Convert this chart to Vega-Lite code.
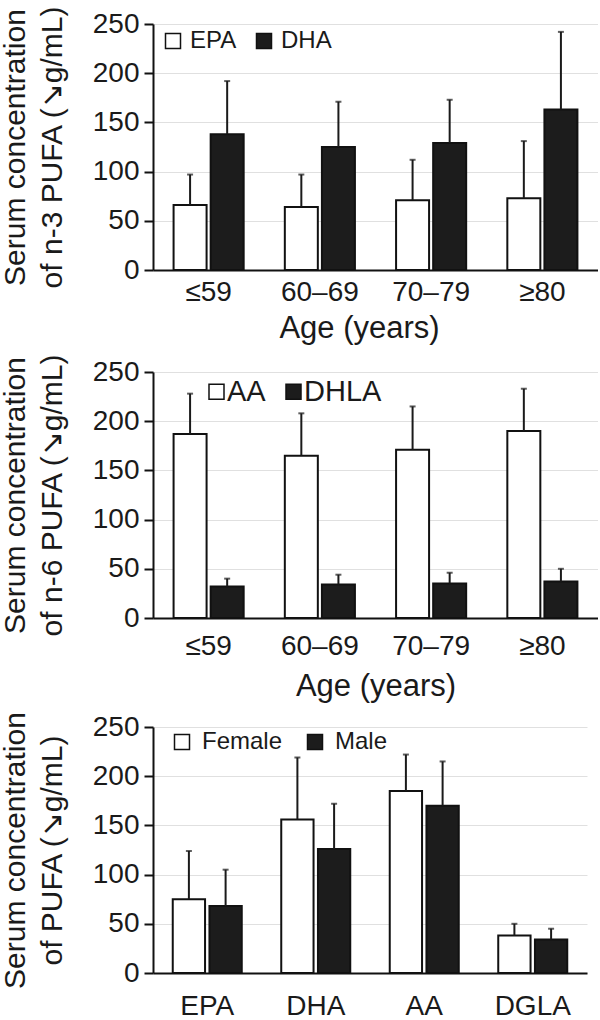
{
  "$schema": "https://vega.github.io/schema/vega-lite/v6.json",
  "padding": {"left": 0, "top": 5, "right": 0, "bottom": 0},
  "background": "white",
  "spacing": 10,
  "datasets": {
    "n3": [
      {"group": "≤59", "series": "EPA", "mean": 66, "upper": 97},
      {"group": "≤59", "series": "DHA", "mean": 138, "upper": 192},
      {"group": "60–69", "series": "EPA", "mean": 64, "upper": 97},
      {"group": "60–69", "series": "DHA", "mean": 125, "upper": 171},
      {"group": "70–79", "series": "EPA", "mean": 71, "upper": 112},
      {"group": "70–79", "series": "DHA", "mean": 129, "upper": 173},
      {"group": "≥80", "series": "EPA", "mean": 73, "upper": 131},
      {"group": "≥80", "series": "DHA", "mean": 163, "upper": 242}
    ],
    "n6": [
      {"group": "≤59", "series": "AA", "mean": 187, "upper": 228},
      {"group": "≤59", "series": "DHLA", "mean": 32, "upper": 40},
      {"group": "60–69", "series": "AA", "mean": 165, "upper": 208},
      {"group": "60–69", "series": "DHLA", "mean": 34, "upper": 44},
      {"group": "70–79", "series": "AA", "mean": 171, "upper": 215},
      {"group": "70–79", "series": "DHLA", "mean": 35, "upper": 46},
      {"group": "≥80", "series": "AA", "mean": 190, "upper": 233},
      {"group": "≥80", "series": "DHLA", "mean": 37, "upper": 50}
    ],
    "sex": [
      {"group": "EPA", "series": "Female", "mean": 75, "upper": 124},
      {"group": "EPA", "series": "Male", "mean": 68, "upper": 105},
      {"group": "DHA", "series": "Female", "mean": 156, "upper": 219},
      {"group": "DHA", "series": "Male", "mean": 126, "upper": 172},
      {"group": "AA", "series": "Female", "mean": 185, "upper": 222},
      {"group": "AA", "series": "Male", "mean": 170, "upper": 215},
      {"group": "DGLA", "series": "Female", "mean": 38, "upper": 50},
      {"group": "DGLA", "series": "Male", "mean": 34, "upper": 45}
    ]
  },
  "resolve": {
    "scale": {"x": "independent", "y": "independent", "xOffset": "independent", "fill": "independent"},
    "legend": {"fill": "independent"},
    "axis": {"x": "independent", "y": "independent"}
  },
  "vconcat": [
    {
      "width": 445, "height": 246,
      "data": {"name": "n3"},
      "encoding": {
        "x": {"field": "group", "type": "nominal", "sort": ["≤59", "60–69", "70–79", "≥80"], "scale": {"paddingInner": 0.37, "paddingOuter": 0.185}, "title": "Age (years)",
          "axis": {"labelPadding": 8, "titlePadding": 7, "titleX": 206}},
        "xOffset": {"field": "series", "type": "nominal", "sort": ["EPA", "DHA"], "scale": {"paddingInner": 0.11, "paddingOuter": 0}}
      },
      "layer": [
        {
          "mark": {"type": "bar", "stroke": "#111111", "strokeWidth": 2},
          "encoding": {
            "y": {"field": "mean", "type": "quantitative", "scale": {"domain": [0, 250], "nice": false}, "title": ["Serum concentration", "of n-3 PUFA (↘g/mL)"]},
            "fill": {"field": "series", "type": "nominal", "sort": ["EPA", "DHA"], "scale": {"domain": ["EPA", "DHA"], "range": ["#ffffff", "#1c1c1c"]},
              "legend": {"legendX": 8, "legendY": 5, "labelFontSize": 24, "labelOffset": 5, "columnPadding": 15}}
          }
        },
        {
          "mark": {"type": "rule", "color": "#1a1a1a", "strokeWidth": 2},
          "encoding": {"y": {"field": "mean", "type": "quantitative", "title": ["Serum concentration", "of n-3 PUFA (↘g/mL)"]}, "y2": {"field": "upper"}}
        },
        {
          "mark": {"type": "tick", "color": "#1a1a1a", "thickness": 2, "size": 6, "orient": "horizontal"},
          "encoding": {"y": {"field": "upper", "type": "quantitative", "title": ["Serum concentration", "of n-3 PUFA (↘g/mL)"]}}
        }
      ]
    },
    {
      "width": 445, "height": 246,
      "data": {"name": "n6"},
      "encoding": {
        "x": {"field": "group", "type": "nominal", "sort": ["≤59", "60–69", "70–79", "≥80"], "scale": {"paddingInner": 0.37, "paddingOuter": 0.185}, "title": "Age (years)",
          "axis": {"labelPadding": 14, "titlePadding": 11}},
        "xOffset": {"field": "series", "type": "nominal", "sort": ["AA", "DHLA"], "scale": {"paddingInner": 0.11, "paddingOuter": 0}}
      },
      "layer": [
        {
          "mark": {"type": "bar", "stroke": "#111111", "strokeWidth": 2},
          "encoding": {
            "y": {"field": "mean", "type": "quantitative", "scale": {"domain": [0, 250], "nice": false}, "title": ["Serum concentration", "of n-6 PUFA (↘g/mL)"]},
            "fill": {"field": "series", "type": "nominal", "sort": ["AA", "DHLA"], "scale": {"domain": ["AA", "DHLA"], "range": ["#ffffff", "#1c1c1c"]},
              "legend": {"legendX": 49, "legendY": 5, "labelFontSize": 29, "labelOffset": -4, "columnPadding": 13}}
          }
        },
        {
          "mark": {"type": "rule", "color": "#1a1a1a", "strokeWidth": 2},
          "encoding": {"y": {"field": "mean", "type": "quantitative", "title": ["Serum concentration", "of n-6 PUFA (↘g/mL)"]}, "y2": {"field": "upper"}}
        },
        {
          "mark": {"type": "tick", "color": "#1a1a1a", "thickness": 2, "size": 6, "orient": "horizontal"},
          "encoding": {"y": {"field": "upper", "type": "quantitative", "title": ["Serum concentration", "of n-6 PUFA (↘g/mL)"]}}
        }
      ]
    },
    {
      "width": 434, "height": 246,
      "data": {"name": "sex"},
      "encoding": {
        "x": {"field": "group", "type": "nominal", "sort": ["EPA", "DHA", "AA", "DGLA"], "scale": {"paddingInner": 0.364, "paddingOuter": 0.182}, "title": null,
          "axis": {"labelPadding": 19}},
        "xOffset": {"field": "series", "type": "nominal", "sort": ["Female", "Male"], "scale": {"paddingInner": 0.12, "paddingOuter": 0}}
      },
      "layer": [
        {
          "mark": {"type": "bar", "stroke": "#111111", "strokeWidth": 2},
          "encoding": {
            "y": {"field": "mean", "type": "quantitative", "scale": {"domain": [0, 250], "nice": false}, "title": ["Serum concentration", "of PUFA (↘g/mL)"]},
            "fill": {"field": "series", "type": "nominal", "sort": ["Female", "Male"], "scale": {"domain": ["Female", "Male"], "range": ["#ffffff", "#1c1c1c"]},
              "legend": {"legendX": 17, "legendY": 3, "labelFontSize": 24, "labelOffset": 8, "columnPadding": 20}}
          }
        },
        {
          "mark": {"type": "rule", "color": "#1a1a1a", "strokeWidth": 2},
          "encoding": {"y": {"field": "mean", "type": "quantitative", "title": ["Serum concentration", "of PUFA (↘g/mL)"]}, "y2": {"field": "upper"}}
        },
        {
          "mark": {"type": "tick", "color": "#1a1a1a", "thickness": 2, "size": 6, "orient": "horizontal"},
          "encoding": {"y": {"field": "upper", "type": "quantitative", "title": ["Serum concentration", "of PUFA (↘g/mL)"]}}
        }
      ]
    }
  ],
  "config": {
    "font": "Liberation Sans",
    "view": {"stroke": null},
    "axis": {
      "domainColor": "#111111", "domainWidth": 2,
      "labelFont": "Liberation Sans", "labelFontSize": 28, "labelColor": "#1a1a1a",
      "titleFont": "Liberation Sans", "titleFontSize": 30, "titleFontWeight": "normal", "titleColor": "#1a1a1a",
      "gridColor": "#e0e0e0", "gridWidth": 1,
      "tickColor": "#111111", "tickWidth": 2, "tickSize": 9
    },
    "axisX": {"ticks": false, "grid": false, "labelAngle": 0, "labelOverlap": false, "labelBound": false, "titleFontSize": 31},
    "axisY": {"grid": true, "values": [0, 50, 100, 150, 200, 250], "labelPadding": 5, "titlePadding": 25, "titleLineHeight": 37},
    "legend": {
      "orient": "none", "direction": "horizontal", "title": null,
      "symbolType": "square", "symbolSize": 225, "symbolStrokeColor": "#111111", "symbolStrokeWidth": 1.5,
      "labelFont": "Liberation Sans", "labelColor": "#1a1a1a", "padding": 0, "symbolOffset": 0
    }
  }
}
